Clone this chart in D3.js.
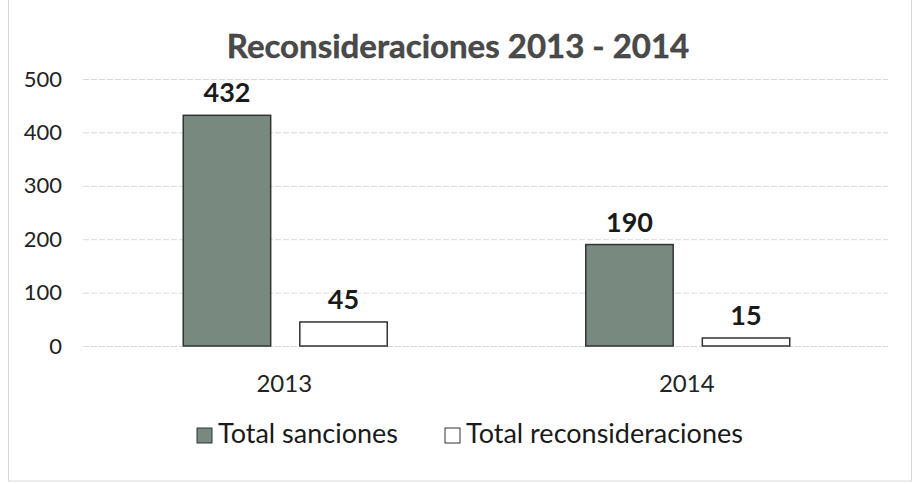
<!DOCTYPE html>
<html>
<head>
<meta charset="utf-8">
<script src="https://cdn.jsdelivr.net/npm/d3@7"></script>
<style>
  body { margin: 0; background: #fff; }
  text { font-family: Lato, "Open Sans", sans-serif; }
</style>
</head>
<body>
<script>
'use strict';

const years = ["2013", "2014"];
const seriesNames = ["Total sanciones", "Total reconsideraciones"];
const sanciones = [432, 190];
const reconsideraciones = [45, 15];
const yTicks = [0, 100, 200, 300, 400, 500];

const width = 913;
const height = 484;
const colors = ["#788a80", "#ffffff"];

let svg = d3.select("body")
  .append("svg")
  .attr("width", width)
  .attr("height", height);

// chart frame
svg.append("rect")
  .attr("x", 8.5)
  .attr("y", -1)
  .attr("width", 903)
  .attr("height", 482)
  .attr("fill", "none")
  .attr("stroke", "#d8d8d8");

let x = d3.scaleBand()
  .domain(years)
  .range([83, 888]);

let x1 = d3.scaleBand()
  .domain(seriesNames)
  .range([x.bandwidth() / 2 - 101, x.bandwidth() / 2 + 103])
  .paddingInner(0.25);

let y = d3.scaleLinear()
  .domain([0, 500])
  .range([346, 79]);

// gridlines
svg.append("g")
  .selectAll("line")
  .data(yTicks)
  .enter()
  .append("line")
  .attr("x1", 83)
  .attr("x2", 888)
  .attr("y1", d => y(d) + 0.5)
  .attr("y2", d => y(d) + 0.5)
  .attr("stroke", "#d9d9d9")
  .attr("stroke-dasharray", "6 2");

// y axis
let yAxis = svg.append("g")
  .attr("transform", "translate(62,0)")
  .call(d3.axisLeft(y).tickValues(yTicks).tickSize(0).tickPadding(0));
yAxis.select(".domain").remove();
yAxis.selectAll("text")
  .attr("font-family", "Lato, 'Open Sans', sans-serif")
  .attr("font-size", 22)
  .attr("fill", "#222");

// x axis labels
let xAxis = svg.append("g")
  .attr("transform", "translate(0,346)")
  .call(d3.axisBottom(x).tickSize(0).tickPadding(29));
xAxis.select(".domain").remove();
xAxis.selectAll("text")
  .attr("font-family", "Lato, 'Open Sans', sans-serif")
  .attr("font-size", 24)
  .attr("fill", "#222");

let rows = years.map((yr, i) => ({
  year: yr,
  values: [
    { name: seriesNames[0], value: sanciones[i] },
    { name: seriesNames[1], value: reconsideraciones[i] }
  ]
}));

let groups = svg.append("g")
  .selectAll("g")
  .data(rows)
  .enter()
  .append("g")
  .attr("transform", d => "translate(" + x(d.year) + ",0)");

groups.selectAll("rect")
  .data(d => d.values)
  .enter()
  .append("rect")
  .attr("x", d => x1(d.name))
  .attr("width", x1.bandwidth())
  .attr("y", d => y(d.value))
  .attr("height", d => y(0) - y(d.value))
  .attr("fill", (d, i) => colors[i])
  .attr("stroke", "#333")
  .attr("stroke-width", 1.5);

groups.selectAll("text")
  .data(d => d.values)
  .enter()
  .append("text")
  .attr("x", d => x1(d.name) + x1.bandwidth() / 2)
  .attr("y", d => y(d.value) - 13)
  .attr("text-anchor", "middle")
  .attr("font-size", 27)
  .attr("font-weight", "bold")
  .attr("fill", "#1a1a1a")
  .text(d => d.value);

// title
svg.append("text")
  .attr("x", 458)
  .attr("y", 58)
  .attr("text-anchor", "middle")
  .attr("font-size", 33)
  .attr("font-weight", "bold")
  .attr("fill", "#4a4a4a")
  .attr("stroke", "#333")
  .attr("stroke-width", 0.4)
  .text("Reconsideraciones 2013 - 2014");

// legend
let legend = svg.append("g");
let legendX = [197, 445];
seriesNames.forEach((name, i) => {
  legend.append("rect")
    .attr("x", legendX[i])
    .attr("y", 428)
    .attr("width", 15)
    .attr("height", 15)
    .attr("fill", colors[i])
    .attr("stroke", "#333")
    .attr("stroke-width", 1);
  legend.append("text")
    .attr("x", legendX[i] + 21)
    .attr("y", 443)
    .attr("font-size", 27)
    .attr("fill", "#1a1a1a")
    .text(name);
});
</script>
</body>
</html>
